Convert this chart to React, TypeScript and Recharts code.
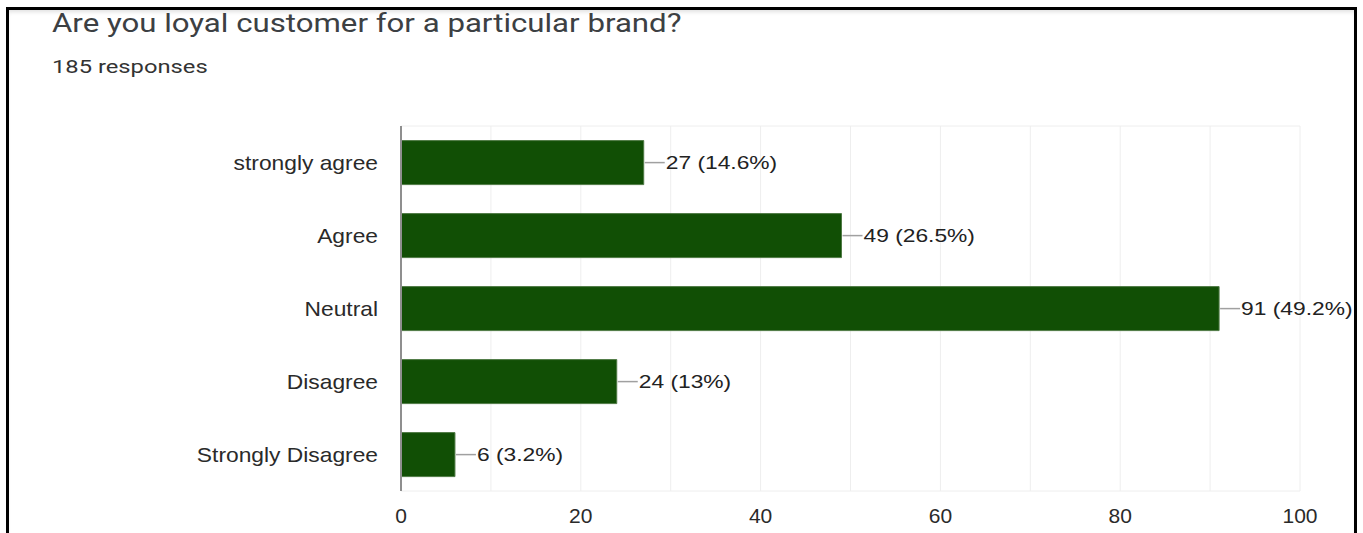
import { BarChart, Bar, XAxis, YAxis, CartesianGrid, LabelList } from "recharts";

const categories = ["strongly agree", "Agree", "Neutral", "Disagree", "Strongly Disagree"];
const counts = [27, 49, 91, 24, 6];
const percents = ["14.6%", "26.5%", "49.2%", "13%", "3.2%"];
const gridTicks = [0, 10, 20, 30, 40, 50, 60, 70, 80, 90, 100];

const data = categories.map((name, i) => ({
  name,
  count: counts[i],
  pct: percents[i],
}));

const FONT = "'Liberation Sans', Arial, sans-serif";

// the source screenshot is stretched a bit horizontally, so text gets a scaleX
const BarLabel = (props: any) => {
  const { x, y, width, height, index } = props;
  const endX = x + width;
  const midY = y + height / 2;
  return (
    <g>
      <line x1={endX + 1} y1={midY} x2={endX + 21} y2={midY} stroke="#a0a0a0" strokeWidth={1.5} />
      <text
        transform={`translate(${endX + 22},${midY}) scale(1.2,1)`}
        dy="0.35em"
        fontSize={19}
        fontFamily={FONT}
        fill="#222"
      >
        {`${counts[index]} (${percents[index]})`}
      </text>
    </g>
  );
};

const YTick = (props: any) => {
  const { x, y, payload } = props;
  return (
    <text
      transform={`translate(${x},${y}) scale(1.14,1)`}
      textAnchor="end"
      dy="0.35em"
      fontSize={20}
      fontFamily={FONT}
      fill="#2a2a2a"
    >
      {payload.value}
    </text>
  );
};

const XTick = (props: any) => {
  const { x, y, payload } = props;
  if (payload.value % 20 !== 0) return null;
  return (
    <text
      x={x}
      y={y}
      textAnchor="middle"
      dy="0.71em"
      fontSize={21}
      fontFamily={FONT}
      fill="#2a2a2a"
    >
      {payload.value}
    </text>
  );
};

const App = () => {
  return (
    <div
      style={{
        position: "absolute",
        left: 0,
        top: 0,
        width: 1363,
        height: 533,
        overflow: "hidden",
        background: "#fff",
      }}
    >
      <div
        style={{
          position: "absolute",
          left: 6,
          top: 7,
          width: 1351,
          height: 600,
          border: "3px solid #000",
          boxSizing: "border-box",
          boxShadow: "inset 0 4px 4px -2px rgba(0,0,0,0.12)",
        }}
      />
      <div
        style={{
          position: "absolute",
          left: 52,
          top: 10,
          fontFamily: "Roboto, sans-serif",
          fontSize: 26,
          lineHeight: "26px",
          color: "#3c4043",
          whiteSpace: "nowrap",
          transform: "scaleX(1.2)",
          transformOrigin: "left top",
        }}
      >
        Are you loyal customer for a particular brand?
      </div>
      <div
        style={{
          position: "absolute",
          left: 52,
          top: 57,
          fontFamily: "Roboto, sans-serif",
          fontSize: 19,
          lineHeight: "19px",
          color: "#333",
          whiteSpace: "nowrap",
          transform: "scaleX(1.25)",
          transformOrigin: "left top",
        }}
      >
        185 responses
      </div>
      <div style={{ position: "absolute", left: 0, top: 0 }}>
        <BarChart
          width={1363}
          height={533}
          data={data}
          layout="vertical"
          margin={{ top: 126, right: 63, bottom: 0, left: 0 }}
          barCategoryGap="20%"
        >
          <CartesianGrid horizontal={false} stroke="#eeeeee" />
          <CartesianGrid
            vertical={false}
            stroke="#eeeeee"
            horizontalCoordinatesGenerator={({ offset }: any) => [
              offset.top,
              offset.top + offset.height,
            ]}
          />
          <XAxis
            type="number"
            dataKey="count"
            domain={[0, 100]}
            ticks={gridTicks}
            interval={0}
            axisLine={false}
            tickLine={false}
            tickSize={0}
            tickMargin={17}
            height={42}
            tick={<XTick />}
          />
          <YAxis
            type="category"
            dataKey="name"
            width={401}
            axisLine={{ stroke: "#8f8f8f", strokeWidth: 2 }}
            tickLine={false}
            tickSize={0}
            tickMargin={23}
            tick={<YTick />}
          />
          <Bar
            dataKey="count"
            fill="#114f05"
            stroke="#4f7a45"
            strokeWidth={1}
            isAnimationActive={false}
          >
            <LabelList dataKey="count" content={BarLabel} />
          </Bar>
        </BarChart>
      </div>
    </div>
  );
};

export default App;
